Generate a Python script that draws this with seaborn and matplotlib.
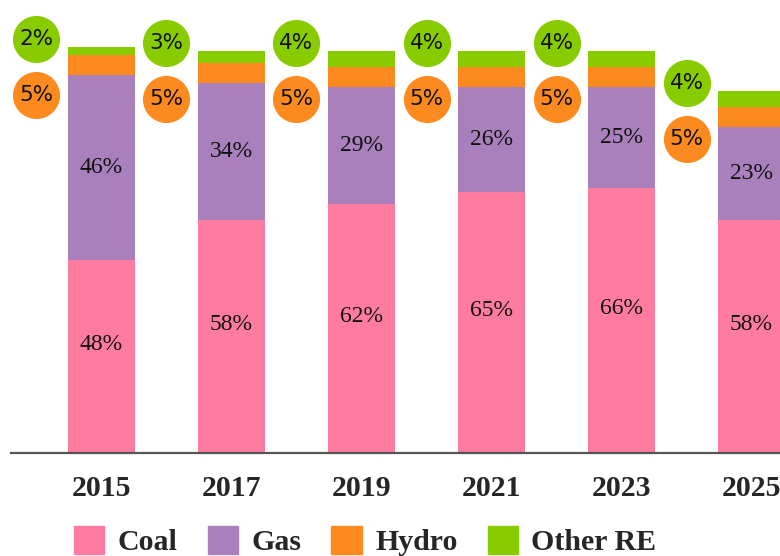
import numpy as np
import pandas as pd
import seaborn as sns
import matplotlib.pyplot as plt
from matplotlib.patches import Patch

years = ['2015', '2017', '2019', '2021', '2023', '2025']
coal = [48, 58, 62, 65, 66, 58]
gas = [46, 34, 29, 26, 25, 23]
hydro = [5, 5, 5, 5, 5, 5]
other_re = [2, 3, 4, 4, 4, 4]

series = ['Coal', 'Gas', 'Hydro', 'Other RE']
colors = ['#ff7ba0', '#a97fbc', '#fd8a1e', '#88cc00']

df = pd.DataFrame({'year': years, 'Coal': coal, 'Gas': gas,
                   'Hydro': hydro, 'Other RE': other_re})
cum = df[series].cumsum(axis=1)

sns.set_style('white')
fig = plt.figure(figsize=(7.8, 5.56), dpi=100)
ax = fig.add_axes([11 / 780, 103 / 556, 1 - 11 / 780, 453 / 556])

# stacked bars: draw the cumulative totals from the top layer down
for s, c in zip(series[::-1], colors[::-1]):
    sns.barplot(x=df['year'], y=cum[s], color=c, saturation=1, width=0.515,
                linewidth=0, ax=ax, order=years)

serif = 'Liberation Serif'
for i in range(len(years)):
    ax.text(i, coal[i] / 2 + 3, f'{coal[i]}%', ha='center', va='center',
            fontsize=17, family=serif, color='#111111')
    ax.text(i, coal[i] + gas[i] / 2, f'{gas[i]}%', ha='center', va='center',
            fontsize=17, family=serif, color='#111111')

# circles for the small shares, left of each bar
total = cum['Other RE'].values
xpos = np.arange(len(years)) - 0.5
sns.scatterplot(x=xpos, y=total + 2, s=1150, color=colors[3], linewidth=0,
                ax=ax, legend=False, zorder=3, clip_on=False)
sns.scatterplot(x=xpos, y=total - 12, s=1150, color=colors[2], linewidth=0,
                ax=ax, legend=False, zorder=3, clip_on=False)
for i in range(len(years)):
    ax.text(xpos[i], total[i] + 2, f'{other_re[i]}%', ha='center', va='center',
            fontsize=15.5, family='DejaVu Sans', color='#111111', zorder=4)
    ax.text(xpos[i], total[i] - 12, f'{hydro[i]}%', ha='center', va='center',
            fontsize=15.5, family='DejaVu Sans', color='#111111', zorder=4)

ax.set_xlim(-0.696, 5.219)
ax.set_ylim(0, 112.7)
ax.set_xlabel('')
ax.set_ylabel('')
ax.set_yticks([])
for sp in ['top', 'right', 'left']:
    ax.spines[sp].set_visible(False)
ax.spines['bottom'].set_color('#555555')
ax.spines['bottom'].set_linewidth(1.6)
ax.tick_params(axis='x', length=0, pad=16)
for lab in ax.get_xticklabels():
    lab.set_fontfamily(serif)
    lab.set_fontweight('bold')
    lab.set_fontsize(21.5)

handles = [Patch(color=c, label=s) for s, c in zip(series, colors)]
fig.legend(handles=handles, loc='center left', bbox_to_anchor=(74 / 780, 0.027),
           ncol=4, frameon=False, borderpad=0, borderaxespad=0,
           handlelength=1.02, handleheight=1.05, handletextpad=0.45,
           columnspacing=1.0,
           prop={'family': serif, 'weight': 'bold', 'size': 21.5})

fig.savefig('out.png', dpi=100)
